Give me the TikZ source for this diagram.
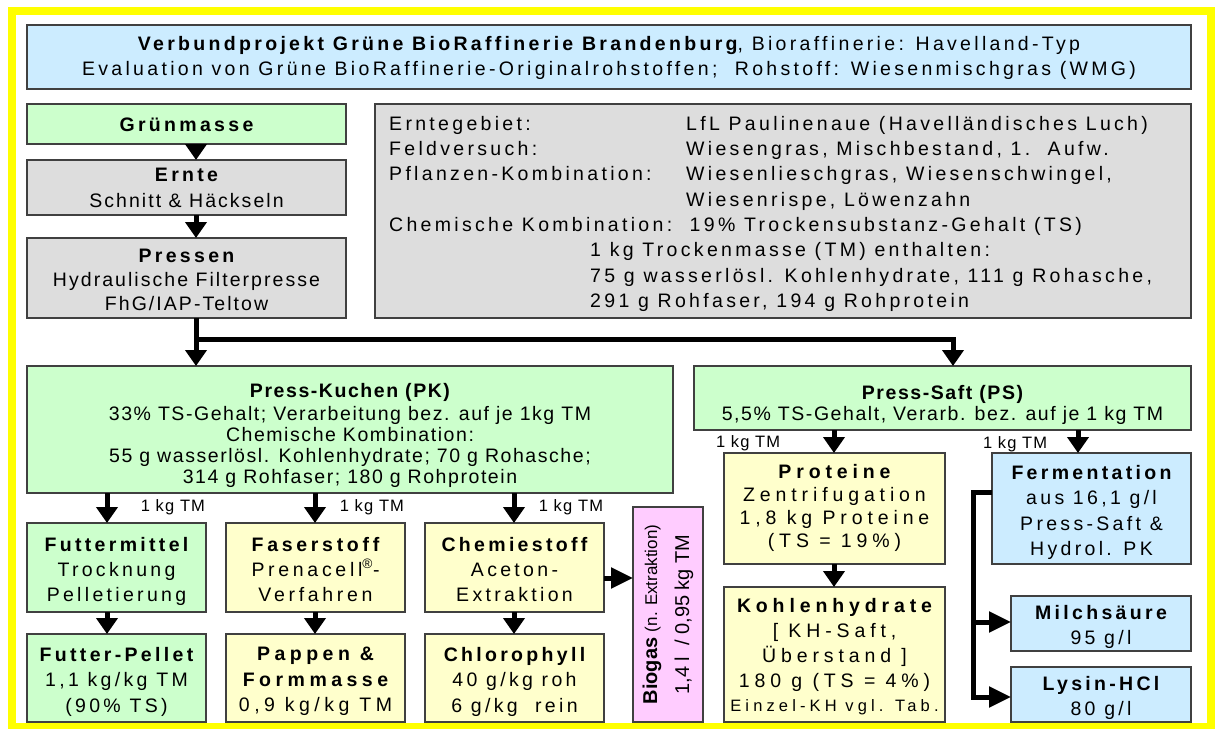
\documentclass[tikz,border=0pt]{standalone}
\usepackage{fontspec}
\setmainfont{Liberation Sans}[LetterSpace=17]
\newfontfamily\tightfont{Liberation Sans}[LetterSpace=8]
\newfontfamily\midfont{Liberation Sans}[LetterSpace=10.5]
\newfontfamily\ffont{Liberation Sans}[LetterSpace=19]
\newfontfamily\pfont{Liberation Sans}[LetterSpace=23]
\newfontfamily\wfont{Liberation Sans}[LetterSpace=25]
\newfontfamily\lblfont{Liberation Sans}[LetterSpace=7]
\newfontfamily\plainfont{Liberation Sans}
\usetikzlibrary{arrows.meta}
\definecolor{cblue}{HTML}{CCECFF}
\definecolor{cgreen}{HTML}{CCFFCC}
\definecolor{cgrey}{HTML}{DDDDDD}
\definecolor{cyel}{HTML}{FFFFCC}
\definecolor{cpink}{HTML}{FFCCFF}
\definecolor{cframe}{HTML}{FFFF00}
\newcommand\fsz[1]{\fontsize{19.5}{#1}\selectfont}
\tikzset{
  bx/.style={draw=black!75, line width=1.3pt, inner sep=0pt, outer sep=0pt, align=center},
  txt/.style={inner sep=0pt, outer sep=0pt, align=center},
  arr/.style={line width=5pt, -{Triangle[length=16pt,width=21pt]}},
  harr/.style={line width=5pt, -{Triangle[length=22pt,width=20pt]}},
  lbl/.style={inner sep=0pt, outer sep=0pt, font=\lblfont\fontsize{16.5}{18}\selectfont},
}
% name, x1, y1, x2, y2, fill, cap top of first line, font, text
\newcommand\tbox[9]{%
  \node[bx,fill=#6,minimum width={(#4-#2)*1pt},minimum height={(#5-#3)*1pt}] (#1) at ({(#2+#4)/2},{(#3+#5)/2}) {};
  \node[txt,font=#8,anchor=north] (#1-t) at ({(#2+#4)/2},#7) {#9};}
\begin{document}
\begin{tikzpicture}[x=1pt,y=-1pt]
\useasboundingbox (0,0) rectangle (1217,728);
\draw[cframe, line width=8pt] (12,11) rectangle (1210.5,727);
% title
\tbox{title}{27}{25}{1191}{89}{cblue}{36.8}{\fsz{25}}{{\bfseries Verbundprojekt Grüne BioRaffinerie Brandenburg}, Bioraffinerie: Havelland-Typ\\Evaluation von Grüne BioRaffinerie-Originalrohstoffen;\ \ Rohstoff: Wiesenmischgras (WMG)}
% left column
\tbox{gruen}{27}{104}{346}{144}{cgreen}{117.5}{\fsz{25}}{\bfseries Grünmasse}
\tbox{ernte}{27}{160}{346}{215}{cgrey}{168}{\fsz{26.5}}{{\bfseries Ernte}\\{\midfont Schnitt \& Häckseln}}
\tbox{pressen}{27}{238}{346}{318}{cgrey}{249.3}{\fsz{23.7}}{{\bfseries Pressen}\\{\midfont Hydraulische Filterpresse}\\{\midfont FhG/IAP-Teltow}}
% info box
\node[bx, fill=cgrey, minimum width=816pt, minimum height=214pt] (info) at (783,211) {};
\node[anchor=north west, inner sep=0pt, align=left, font=\fsz{25.3}] (infotext) at (389,116) {%
\makebox[297pt][l]{Erntegebiet:}LfL Paulinenaue (Havelländisches Luch)\\
\makebox[297pt][l]{Feldversuch:}Wiesengras, Mischbestand, 1.\ \ Aufw.\\
\makebox[297pt][l]{Pflanzen-Kombination:}Wiesenlieschgras, Wiesenschwingel,\\
\hspace*{297pt}Wiesenrispe, Löwenzahn\\
Chemische Kombination:\ \ 19\% Trockensubstanz-Gehalt (TS)\\
\hspace*{201pt}1 kg Trockenmasse (TM) enthalten:\\
\hspace*{201pt}75 g wasserlösl. Kohlenhydrate, 111 g Rohasche,\\
\hspace*{201pt}291 g Rohfaser, 194 g Rohprotein};
% press cake / press juice
\tbox{pk}{27}{366}{673}{493}{cgreen}{383}{\tightfont\fsz{21}}{{\bfseries Press-Kuchen (PK)}\\[2pt]33\% TS-Gehalt; Verarbeitung bez. auf je 1kg TM\\Chemische Kombination:\\55 g wasserlösl. Kohlenhydrate; 70 g Rohasche;\\314 g Rohfaser; 180 g Rohprotein}
\tbox{ps}{694}{366}{1191}{430}{cgreen}{385}{\tightfont\fsz{21}}{{\bfseries Press-Saft (PS)}\\5,5\% TS-Gehalt, Verarb. bez. auf je 1 kg TM}
% press cake products
\tbox{futter}{27}{523}{206}{612}{cgreen}{537}{\fsz{25}}{{\bfseries Futtermittel}\\Trocknung\\Pelletierung}
\tbox{faser}{226}{523}{405}{612}{cyel}{537}{\ffont\fsz{25}}{{\bfseries Faserstoff}\\Prenacell\textsuperscript{®}-\\Verfahren}
\tbox{chemie}{425}{523}{604}{612}{cyel}{537}{\fsz{25}}{{\bfseries Chemiestoff}\\Aceton-\\Extraktion}
\tbox{pellet}{27}{634}{206}{722}{cgreen}{647}{\fsz{25.5}}{{\bfseries Futter-Pellet}\\1,1 kg/kg TM\\(90\% TS)}
\tbox{pappen}{226}{634}{405}{722}{cyel}{647}{\pfont\fsz{25.5}}{{\bfseries Pappen \&}\\{\bfseries Formmasse}\\0,9 kg/kg TM}
\tbox{chloro}{425}{634}{604}{722}{cyel}{647}{\fsz{25.5}}{{\bfseries Chlorophyll}\\40 g/kg roh\\6 g/kg\ \ rein}
\node[bx, fill=cpink, rotate=90, minimum width=215pt, minimum height=70pt, font=\plainfont\fontsize{20}{32}\selectfont] (biogas) at (668,614.5) {{\bfseries Biogas} {\fontsize{17}{32}\selectfont(n. Extraktion)}\\1,4 l\ \ / 0,95 kg TM};
% press juice products
\tbox{prot}{724}{453}{945}{564}{cyel}{464.5}{\wfont\fsz{23}}{{\bfseries Proteine}\\Zentrifugation\\1,8 kg Proteine\\(TS = 19\%)}
\tbox{kh}{724}{587}{945}{722}{cyel}{598.5}{\wfont\fsz{24.8}}{{\bfseries Kohlenhydrate}\\{[} KH-Saft,\\Überstand ]\\180 g (TS = 4\%)\\{\fontsize{16.5}{24.8}\selectfont Einzel-KH vgl. Tab.}}
\tbox{ferm}{992}{453}{1191}{564}{cblue}{465}{\fsz{25.6}}{{\bfseries Fermentation}\\aus 16,1 g/l\\Press-Saft \&\\Hydrol. PK}
\tbox{milch}{1011}{596}{1191}{651}{cblue}{605}{\fsz{25}}{{\bfseries Milchsäure}\\95 g/l}
\tbox{lysin}{1011}{667}{1191}{722}{cblue}{676.5}{\fsz{25}}{{\bfseries Lysin-HCl}\\80 g/l}
% helper coordinates
\coordinate (ax1) at (196,339);
\coordinate (ax2) at (953,339);
\coordinate (cA) at (107,0);
\coordinate (cB) at (315,0);
\coordinate (cC) at (514,0);
\coordinate (cbio) at (0,578);
\coordinate (cP) at (834,0);
\coordinate (cF) at (1078,0);
\coordinate (bk) at (973,492);
\coordinate (cm) at (0,622);
\coordinate (cl) at (0,697);
% connectors
\draw[arr] (gruen.south -| ax1) -- (ernte.north -| ax1);
\draw[arr] (ernte.south -| ax1) -- (pressen.north -| ax1);
\draw[arr] (pressen.south -| ax1) -- (pk.north -| ax1);
\draw[arr] (ax1) -- (ax2) -- (ps.north -| ax2);
\draw[arr] (pk.south -| cA) -- (futter.north -| cA);
\draw[arr] (pk.south -| cB) -- (faser.north -| cB);
\draw[arr] (pk.south -| cC) -- (chemie.north -| cC);
\draw[arr] (futter.south -| cA) -- (pellet.north -| cA);
\draw[arr] (faser.south -| cB) -- (pappen.north -| cB);
\draw[arr] (chemie.south -| cC) -- (chloro.north -| cC);
\draw[harr] (chemie.east |- cbio) -- (biogas.north |- cbio);
\draw[arr] (ps.south -| cP) -- (prot.north -| cP);
\draw[arr] (ps.south -| cF) -- (ferm.north -| cF);
\draw[arr] (prot.south -| cP) -- (kh.north -| cP);
\draw[harr] (ferm.west |- bk) -- (bk) -- (bk |- cl) -- (lysin.west |- cl);
\draw[harr] (bk |- cm) -- (milch.west |- cm);
% labels
\node[lbl, anchor=east] (l1) at (205,507) {1 kg TM};
\node[lbl, anchor=east] (l2) at (404,507) {1 kg TM};
\node[lbl, anchor=east] (l3) at (603,507) {1 kg TM};
\node[lbl, anchor=west] (l4) at (716,443) {1 kg TM};
\node[lbl, anchor=west] (l5) at (983,444) {1 kg TM};
\end{tikzpicture}
\end{document}
